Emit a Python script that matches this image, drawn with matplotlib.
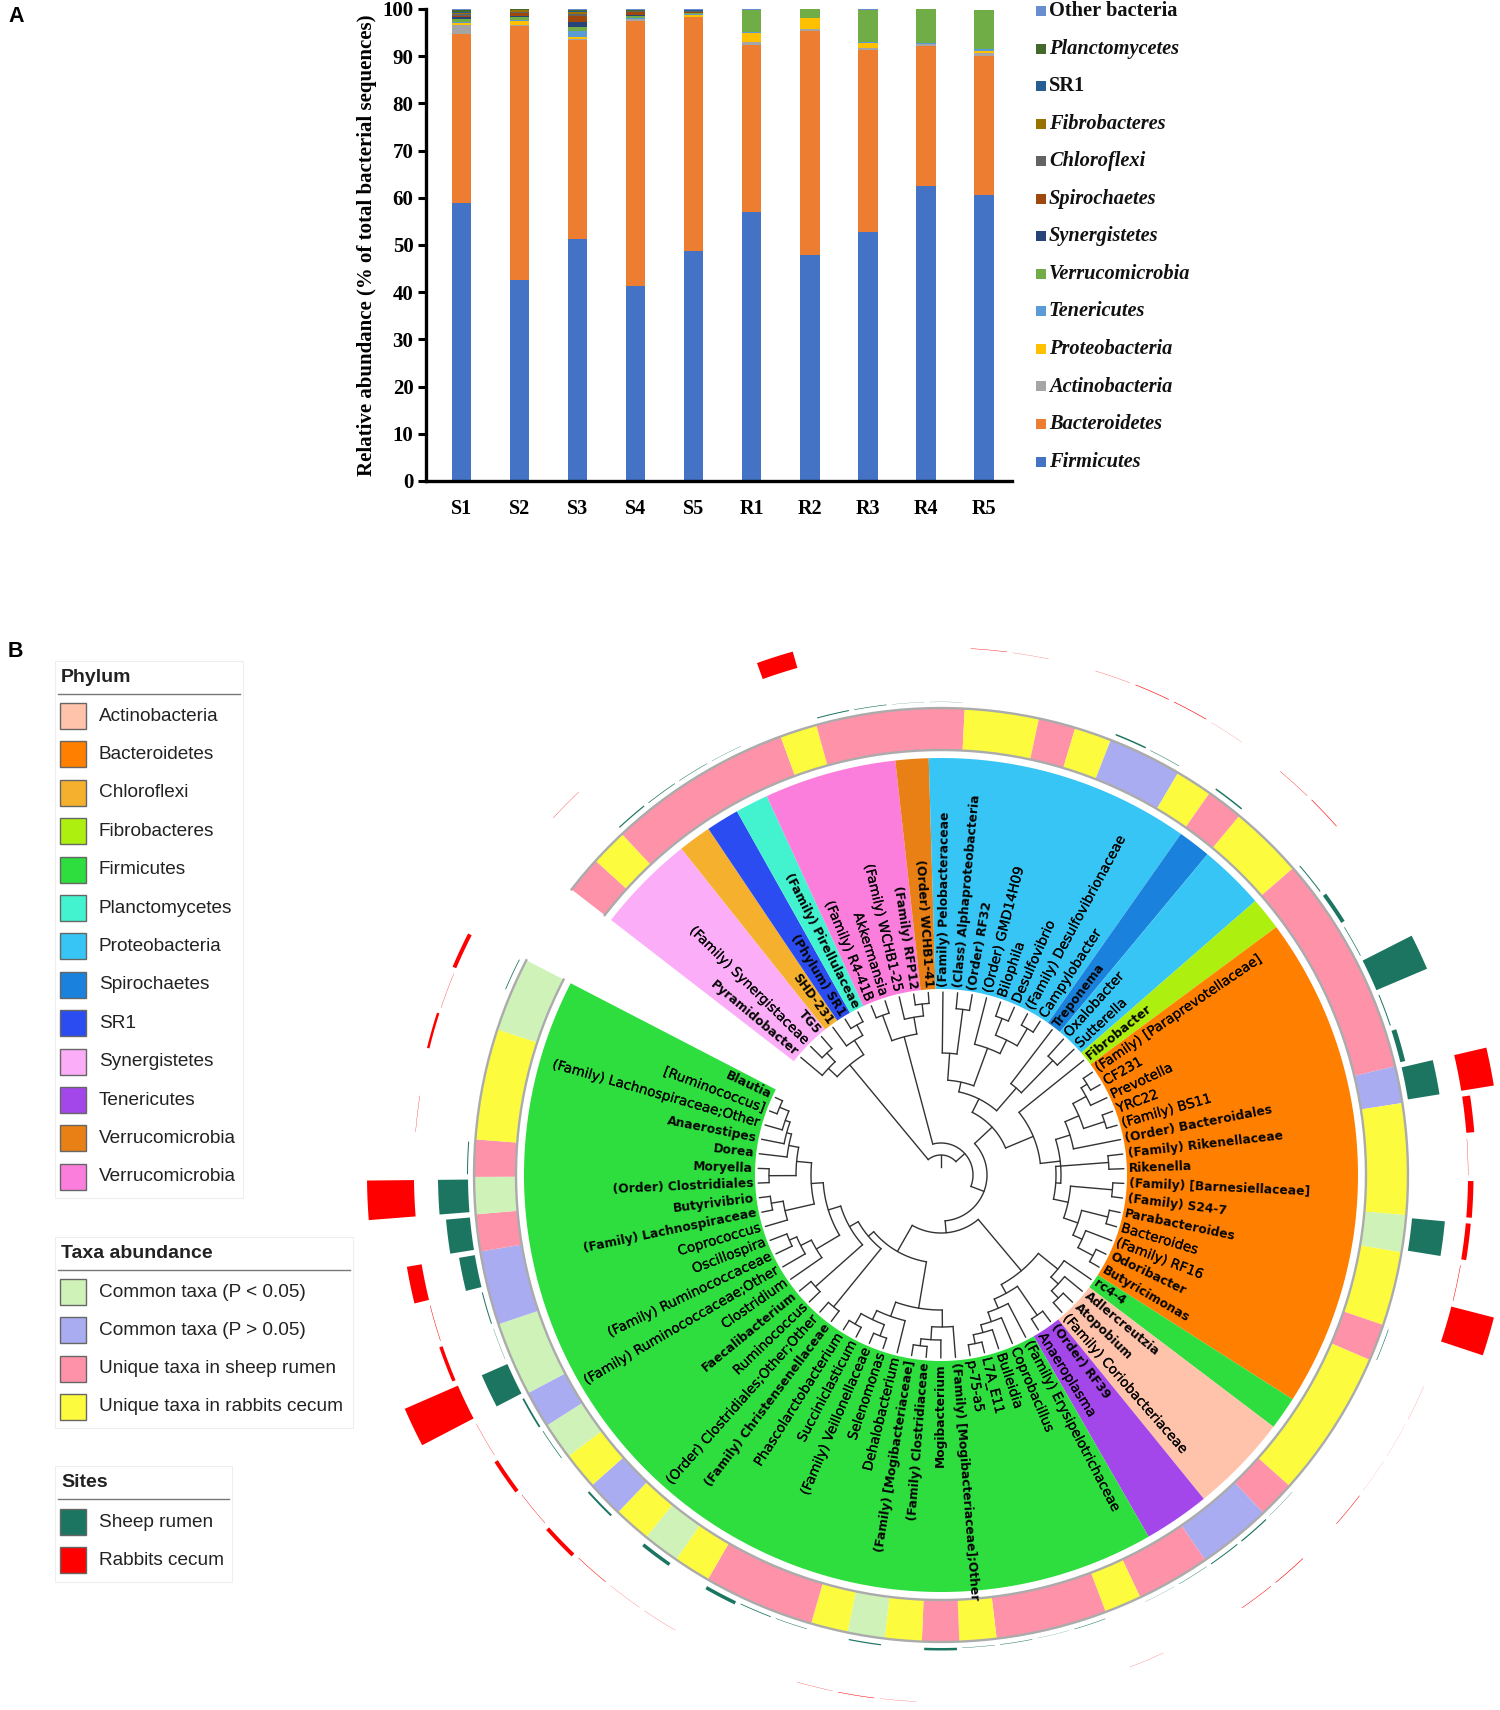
#!/usr/bin/env python3
# -*- coding:utf-8 -*-
import matplotlib
matplotlib.use("Agg")
import matplotlib.patheffects as pe
import matplotlib.pyplot as plt
import numpy as np
from matplotlib.patches import Rectangle

# ---------- panel A data ----------
samples = ["S1", "S2", "S3", "S4", "S5", "R1", "R2", "R3", "R4", "R5"]
firmicutes = [58.9, 42.6, 51.3, 41.4, 48.7, 56.9, 47.8, 52.7, 62.4, 60.6]
bacteroidetes = [35.8, 53.9, 42.2, 56.1, 49.5, 35.4, 47.6, 38.7, 29.8, 29.4]
actinobacteria = [1.9, 0.1, 0.1, 0.3, 0.2, 0.7, 0.4, 0.4, 0.3, 0.6]
proteobacteria = [0.4, 0.9, 0.4, 0.1, 0.4, 1.9, 2.2, 1.0, 0.1, 0.4]
tenericutes = [0.3, 0.1, 1.3, 0.2, 0.1, 0.2, 0.1, 0.2, 0.2, 0.6]
verrucomicrobia = [0.5, 0.6, 0.9, 0.5, 0.2, 4.7, 1.8, 6.8, 7.2, 8.2]
synergistetes = [0.5, 0.3, 1.1, 0.2, 0.1, 0, 0, 0, 0, 0]
spirochaetes = [0.3, 0.6, 1.3, 0.5, 0.1, 0, 0, 0, 0, 0]
chloroflexi = [0.4, 0.3, 0.3, 0.2, 0.2, 0, 0, 0, 0, 0]
fibrobacteres = [0.2, 0.3, 0.5, 0.1, 0.1, 0, 0, 0, 0, 0]
sr1 = [0.1, 0.1, 0.1, 0.05, 0.1, 0, 0, 0, 0, 0]
planctomycetes = [0.5, 0.1, 0.2, 0.2, 0.1, 0, 0, 0, 0, 0]
other_bacteria = [0.2, 0.1, 0.3, 0.05, 0.1, 0.2, 0.1, 0.2, 0, 0]

stack_series = [firmicutes, bacteroidetes, actinobacteria, proteobacteria, tenericutes,
                verrucomicrobia, synergistetes, spirochaetes, chloroflexi, fibrobacteres,
                sr1, planctomycetes, other_bacteria]
stack_names = ["Firmicutes", "Bacteroidetes", "Actinobacteria", "Proteobacteria", "Tenericutes",
               "Verrucomicrobia", "Synergistetes", "Spirochaetes", "Chloroflexi", "Fibrobacteres",
               "SR1", "Planctomycetes", "Other bacteria"]
stack_colors = ["#4472C4", "#ED7D31", "#A5A5A5", "#FFC000", "#5B9BD5", "#70AD47", "#264478",
                "#9E480E", "#636363", "#997300", "#255E91", "#43682B", "#698ED0"]

# ---------- panel B data ----------
leaf_names = [
    "Pyramidobacter", "(Family) Synergistaceae", "TG5", "SHD-231", "(Phylum) SR1",
    "(Family) Pirellulaceae", "(Family) R4-41B", "Akkermansia", "(Family) WCHB1-25",
    "(Family) RFP12", "(Order) WCHB1-41", "(Family) Pelobacteraceae",
    "(Class) Alphaproteobacteria", "(Order) RF32", "(Order) GMD14H09", "Bilophila",
    "Desulfovibrio", "(Family) Desulfovibrionaceae", "Campylobacter", "Treponema",
    "Oxalobacter", "Sutterella", "Fibrobacter", "(Family) [Paraprevotellaceae]", "CF231",
    "Prevotella", "YRC22", "(Family) BS11", "(Order) Bacteroidales", "(Family) Rikenellaceae",
    "Rikenella", "(Family) [Barnesiellaceae]", "(Family) S24-7", "Parabacteroides",
    "Bacteroides", "(Family) RF16", "Odoribacter", "Butyricimonas", "rc4-4", "Adlercreutzia",
    "Atopobium", "(Family) Coriobacteriaceae", "(Order) RF39", "Anaeroplasma",
    "(Family) Erysipelotrichaceae", "Coprobacillus", "Bulleidia", "L7A_E11", "p-75-a5",
    "(Family) [Mogibacteriaceae];Other", "Mogibacterium", "(Family) Clostridiaceae",
    "(Family) [Mogibacteriaceae]", "Dehalobacterium", "Selenomonas", "(Family) Veillonellaceae",
    "Succiniclasticum", "Phascolarctobacterium", "(Family) Christensenellaceae",
    "(Order) Clostridiales;Other;Other", "Ruminococcus", "Faecalibacterium", "Clostridium",
    "(Family) Ruminococcaceae;Other", "(Family) Ruminococcaceae", "Oscillospira", "Coprococcus",
    "(Family) Lachnospiraceae", "Butyrivibrio", "(Order) Clostridiales", "Moryella", "Dorea",
    "Anaerostipes", "(Family) Lachnospiraceae;Other", "[Ruminococcus]", "Blautia",
]
bold_leaves = [
    "Pyramidobacter", "TG5", "SHD-231", "(Phylum) SR1", "(Family) Pirellulaceae",
    "(Family) RFP12", "(Order) WCHB1-41", "(Family) Pelobacteraceae",
    "(Class) Alphaproteobacteria", "(Order) RF32", "Treponema", "Fibrobacter",
    "(Order) Bacteroidales", "(Family) Rikenellaceae", "Rikenella", "(Family) [Barnesiellaceae]",
    "(Family) S24-7", "Parabacteroides", "Odoribacter", "Butyricimonas", "rc4-4", "Adlercreutzia",
    "Atopobium", "(Order) RF39", "(Family) [Mogibacteriaceae];Other", "Mogibacterium",
    "(Family) Clostridiaceae", "(Family) [Mogibacteriaceae]", "(Family) Christensenellaceae",
    "Faecalibacterium", "(Family) Lachnospiraceae", "Butyrivibrio", "(Order) Clostridiales",
    "Moryella", "Dorea", "Anaerostipes", "Blautia",
]

# phylum of each run of leaves, clockwise from Pyramidobacter
phylum_runs = [("Syn", 3), ("Chl", 1), ("SR1", 1), ("Pla", 1), ("VerP", 4), ("VerO", 1),
               ("Pro", 8), ("Spi", 1), ("Pro", 2), ("Fib", 1), ("Bac", 15), ("Fir", 1),
               ("Act", 3), ("Ten", 2), ("Fir", 32)]
phylum_colors = {"Act": "#FFC2AA", "Bac": "#FF7F00", "Chl": "#F5B02E", "Fib": "#ADEF0F",
                 "Fir": "#2EDD3E", "Pla": "#43F3CF", "Pro": "#36C5F4", "Spi": "#1A82DC",
                 "SR1": "#2A4CF0", "Syn": "#FBAEF7", "Ten": "#A347EA", "VerO": "#E88015",
                 "VerP": "#FB7EDD"}

# G common P<0.05, L common P>0.05, P unique sheep, Y unique rabbit
abundance_runs = [("P", 1), ("Y", 1), ("P", 5), ("Y", 1), ("P", 4), ("Y", 2), ("P", 1), ("Y", 1),
                  ("L", 2), ("Y", 1), ("P", 1), ("Y", 2), ("P", 6), ("L", 1), ("Y", 3), ("G", 1),
                  ("Y", 2), ("P", 1), ("Y", 4), ("P", 1), ("L", 2), ("P", 2), ("Y", 1), ("P", 3),
                  ("Y", 1), ("P", 1), ("Y", 1), ("G", 1), ("Y", 1), ("P", 3), ("Y", 1), ("G", 1),
                  ("Y", 1), ("L", 1), ("Y", 1), ("G", 1), ("L", 1), ("G", 2), ("L", 2), ("P", 1),
                  ("G", 1), ("P", 1), ("Y", 3), ("G", 2)]
abundance_colors = {"G": "#CFF2B8", "L": "#A9ACF0", "P": "#FD92A9", "Y": "#FDFB3E"}

# bar heights by leaf number
sheep_bars = {3: 1.2, 4: 0.7, 5: 0.5, 6: 0.3, 9: 1, 10: 0.6, 11: 0.2, 12: 0.2, 17: 1.5, 18: 0.5,
              20: 1.5, 23: 1, 24: 4, 25: 0.7, 26: 55, 27: 1, 28: 5, 29: 32, 33: 33, 36: 0.6,
              41: 0.3, 42: 1.2, 43: 1, 44: 0.4, 45: 0.2, 47: 0.5, 48: 0.2, 49: 0.5, 50: 0.4,
              51: 2.5, 53: 1.2, 55: 0.5, 56: 0.8, 57: 3.5, 59: 3.5, 61: 2, 63: 0.7, 64: 1.8,
              65: 28, 66: 0.3, 67: 1, 68: 16, 69: 24, 70: 30, 71: 1, 76: 0.8}
rabbit_bars = {2: 0.3, 8: 17, 13: 0.4, 14: 0.2, 16: 0.25, 17: 0.6, 18: 0.6, 19: 0.15, 21: 0.35,
               22: 0.6, 29: 33, 30: 8, 31: 0.3, 32: 5.5, 33: 5, 34: 0.5, 35: 44, 37: 0.15,
               38: 0.1, 39: 0.1, 40: 0.5, 42: 0.6, 43: 0.5, 46: 0.2, 52: 0.2, 53: 0.5, 54: 0.25,
               58: 0.2, 59: 0.2, 60: 0.5, 61: 4, 62: 0.4, 63: 4, 64: 0.3, 65: 58, 66: 3.5,
               67: 0.5, 68: 15, 70: 47, 72: 0.3, 74: 2.5, 75: 0.3, 76: 4}

# tree: (node radius, child, child...), ints are leaf numbers
clade_syn = (143, (155, 1, (167, 2, 3)), (160, 4, (172, 5, 6)))
clade_ver = (143, (170, 7, 8), (160, 9, (172, 10, 11)))
clade_pro = (95, (122, 12, (167, 13, 14)), (135, 15, (150, (168, 16, 17), (170, 18, 19))))
clade_spi = (115, 20, (160, 21, 22))
clade_bac1 = (135, (150, (165, (172, 24, 25), 26), (172, 27, 28)), 29)
clade_bac2 = (115, (168, 30, 31), (130, (172, 32, 33), (145, (172, 34, 35), (155, 36, (172, 37, 38)))))
clade_low = (125, (150, 39, (160, 40, (170, 41, 42))),
             (135, (170, 43, 44), (145, 45, (155, 46, (163, 47, (172, 48, 49))))))
clade_f1 = (135, (152, 50, (165, 51, (172, 52, 53))),
            (150, 54, (160, (172, 55, 56), (172, 57, 58))))
clade_f9 = (130, (160, 67, (172, 68, 69)),
            (145, (172, 70, 71), (155, 72, (160, 73, (165, 74, (175, 75, 76))))))
clade_f4 = (118, (145, 63, (157, 64, (165, 65, 66))), clade_f9)
clade_f2 = (95, (170, 59, 60), (105, (168, 61, 62), clade_f4))
clade_firm = (88, clade_f1, clade_f2)
clade_rest = (70, (85, clade_pro, clade_spi), (100, 23, (120, clade_bac1, clade_bac2)))
tree = (20, clade_syn, (32, clade_ver, (46, clade_rest, (58, clade_low, clade_firm))))

legend_phylum = ["Actinobacteria", "Bacteroidetes", "Chloroflexi", "Fibrobacteres", "Firmicutes",
                 "Planctomycetes", "Proteobacteria", "Spirochaetes", "SR1", "Synergistetes",
                 "Tenericutes", "Verrucomicrobia", "Verrucomicrobia"]
legend_phylum_colors = ["#FFC2AA", "#FF7F00", "#F5B02E", "#ADEF0F", "#2EDD3E", "#43F3CF", "#36C5F4",
                        "#1A82DC", "#2A4CF0", "#FBAEF7", "#A347EA", "#E88015", "#FB7EDD"]
legend_taxa = ["Common taxa (P < 0.05)", "Common taxa (P > 0.05)", "Unique taxa in sheep rumen",
               "Unique taxa in rabbits cecum"]
legend_taxa_colors = ["#CFF2B8", "#A9ACF0", "#FD92A9", "#FDFB3E"]
legend_sites = ["Sheep rumen", "Rabbits cecum"]
legend_sites_colors = ["#1C7561", "#FF0000"]

CX, CY = 941, 1175
START = -52.3
STEP = 4.601
SERIF = "Liberation Serif"

fig = plt.figure(figsize=(15, 17.1), dpi=100)
canvas = fig.add_axes([0, 0, 1, 1])
canvas.set_xlim(0, 1500)
canvas.set_ylim(1710, 0)
canvas.axis("off")


def polar_xy(r, theta):
    rad = np.radians(theta)
    return CX + r * np.sin(rad), CY - r * np.cos(rad)


def annular(r0, r1, t0, t1, color):
    t = np.linspace(t0, t1, max(int(abs(t1 - t0) * 2), 2))
    x0, y0 = polar_xy(r0, t)
    x1, y1 = polar_xy(r1, t[::-1])
    canvas.fill(np.r_[x0, x1], np.r_[y0, y1], color=color, lw=0, zorder=2)


def leaf_angle(n):
    return START + STEP * (n - 0.5)


def draw_clade(node):
    if isinstance(node, int):
        return leaf_angle(node), 183
    r = node[0]
    kids = [draw_clade(c) for c in node[1:]]
    for a, kr in kids:
        x, y = polar_xy(np.array([r, kr]), a)
        canvas.plot(x, y, color="#333333", lw=1.0, zorder=3, solid_capstyle="round")
    t = np.linspace(kids[0][0], kids[-1][0], 60)
    x, y = polar_xy(r, t)
    canvas.plot(x, y, color="#333333", lw=1.0, zorder=3)
    return (kids[0][0] + kids[-1][0]) / 2, r


def legend_box(x0, x1, y0, y1, title, names, colors, rows):
    canvas.add_patch(Rectangle((x0, y0), x1 - x0, y1 - y0, fc="white", ec="#EEEEEE", lw=0.8))
    canvas.text(x0 + 6, y0 + 16, title, fontsize=14, fontweight="bold", family="Liberation Sans",
                color="#222222", va="center")
    canvas.plot([x0 + 3, x1 - 3], [y0 + 33, y0 + 33], color="#777777", lw=1)
    for name, col, yy in zip(names, colors, rows):
        canvas.add_patch(Rectangle((x0 + 5, yy - 13), 26, 26, fc=col, ec="#666666", lw=1))
        canvas.text(x0 + 44, yy, name, fontsize=13.7, family="Liberation Sans", color="#222222",
                    va="center")


# ---------- panel A ----------
ax = fig.add_axes([426 / 1500, 1 - 481 / 1710, 586 / 1500, 472 / 1710])
ax.patch.set_alpha(0)
xpos = np.arange(len(samples))
bottom = np.zeros(len(samples))
for vals, col in zip(stack_series, stack_colors):
    ax.bar(xpos, vals, 0.335, bottom=bottom, color=col, lw=0)
    bottom += np.array(vals)
ax.set_xlim(-0.611, 9.482)
ax.set_ylim(0, 100)
ax.set_yticks(range(0, 101, 10))
ax.set_xticks(xpos)
ax.set_xticklabels(samples, fontfamily=SERIF, fontweight="bold", fontsize=14.5)
ax.set_yticklabels([str(v) for v in range(0, 101, 10)], fontfamily=SERIF, fontweight="bold", fontsize=15)
ax.tick_params(axis="x", length=0, pad=13)
ax.tick_params(axis="y", length=6, width=2.2, pad=3)
for s in ["top", "right"]:
    ax.spines[s].set_visible(False)
for s in ["left", "bottom"]:
    ax.spines[s].set_linewidth(2.4)
ax.set_ylabel("Relative abundance (% of total bacterial sequences)", fontfamily=SERIF,
              fontweight="bold", fontsize=15, labelpad=4)

for i, (name, col) in enumerate(zip(stack_names[::-1], stack_colors[::-1])):
    yy = 11 + i * 37.55
    canvas.add_patch(Rectangle((1036, yy - 5), 10, 10, fc=col, ec="none"))
    bold_only = name in ["Other bacteria", "SR1"]
    canvas.text(1049, yy, name, fontfamily=SERIF, fontweight="bold", fontsize=14.7,
                fontstyle="normal" if bold_only else "italic", va="center", color="#111111")

canvas.text(8, 17, "A", fontsize=15.5, fontweight="bold", family="Liberation Sans", va="center")
canvas.text(8, 651, "B", fontsize=15.5, fontweight="bold", family="Liberation Sans", va="center")

# ---------- panel B ----------
k = 0
for name, count in phylum_runs:
    annular(186, 417, START + k * STEP, START + (k + count) * STEP, phylum_colors[name])
    k += count

k = 0
for name, count in abundance_runs:
    annular(425, 467, START + k * STEP, START + (k + count) * STEP, abundance_colors[name])
    k += count
arc_t = np.linspace(START, START + 76 * STEP, 400)
for r in [425, 467]:
    x, y = polar_xy(r, arc_t)
    canvas.plot(x, y, color="#ABABAB", lw=1.7, zorder=3)

for n, h in sheep_bars.items():
    a = leaf_angle(n)
    annular(473, 473 + h, a - STEP * 0.43, a + STEP * 0.43, legend_sites_colors[0])
for n, h in rabbit_bars.items():
    a = leaf_angle(n)
    annular(527, 527 + h, a - STEP * 0.43, a + STEP * 0.43, legend_sites_colors[1])

draw_clade(tree)
# root stub
x, y = polar_xy(np.array([8, 20]), 0)
canvas.plot(x, y, color="#333333", lw=1.0, zorder=3)

for i, name in enumerate(leaf_names):
    a = leaf_angle(i + 1)
    x, y = polar_xy(188, a)
    right_side = 0 <= (a % 360) < 180
    rot = 90 - a if right_side else 270 - a
    is_bold = name in bold_leaves
    t = canvas.text(x, y, name, fontsize=8.8 if is_bold else 9.7, family="DejaVu Sans", rotation=rot,
                    rotation_mode="anchor", va="center", ha="left" if right_side else "right",
                    fontweight="bold" if is_bold else "normal", color="#050505", zorder=4)
    if not is_bold:
        t.set_path_effects([pe.withStroke(linewidth=0.15, foreground="#050505")])

rows_phylum = [716 + 38.4 * i for i in range(13)]
legend_box(55, 243, 661, 1198, "Phylum", legend_phylum, legend_phylum_colors, rows_phylum)
rows_taxa = [1292 + 38.3 * i for i in range(4)]
legend_box(55, 353, 1237, 1428, "Taxa abundance", legend_taxa, legend_taxa_colors, rows_taxa)
rows_sites = [1522, 1560]
legend_box(55, 232, 1466, 1582, "Sites", legend_sites, legend_sites_colors, rows_sites)

fig.savefig("out.png", dpi=100)
